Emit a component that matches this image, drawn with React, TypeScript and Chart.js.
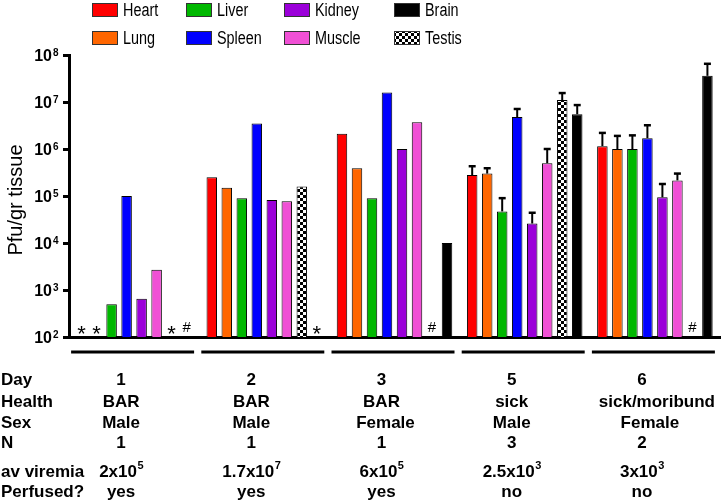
import React, { useEffect, useRef } from 'react';
import { Chart, registerables } from 'chart.js';

Chart.register(...registerables);

// ---- data ----
const days = ['1', '2', '3', '5', '6'];
const health = ['BAR', 'BAR', 'BAR', 'sick', 'sick/moribund'];
const sex = ['Male', 'Male', 'Female', 'Male', 'Female'];
const nCount = ['1', '1', '1', '3', '2'];
const viremiaMantissa = ['2', '1.7', '6', '2.5', '3'];
const viremiaExponent = ['5', '7', '5', '3', '3'];
const perfused = ['yes', 'yes', 'yes', 'no', 'no'];

const yTickExponents = [2, 3, 4, 5, 6, 7, 8];

const organs = ['Heart', 'Lung', 'Liver', 'Spleen', 'Kidney', 'Muscle', 'Testis', 'Brain'];
const organColors = ['#ff0000', '#ff6600', '#00b800', '#0000ff', '#9b00d9', '#f050d5', 'checker', '#000000'];

const heart = [null, 2.5e5, 2.1e6, 2.8e5, 1.15e6];
const lung = [null, 1.5e5, 3.9e5, 3.0e5, 1.0e6];
const liver = [500, 9e4, 9e4, 4.7e4, 1.0e6];
const spleen = [1.0e5, 3.5e6, 1.6e7, 4.8e6, 1.7e6];
const kidney = [650, 8.2e4, 1.0e6, 2.6e4, 9.4e4];
const muscle = [2700, 7.7e4, 3.7e6, 5.0e5, 2.15e5];
const testis = [null, 1.6e5, null, 1.1e7, null];
const brain = [null, null, 1.0e4, 5.5e6, 3.6e7];

const heartErr = [null, null, null, 4.3e5, 2.2e6];
const lungErr = [null, null, null, 3.9e5, 1.9e6];
const liverErr = [null, null, null, 9e4, 1.95e6];
const spleenErr = [null, null, null, 7.1e6, 3.2e6];
const kidneyErr = [null, null, null, 4.4e4, 1.8e5];
const muscleErr = [null, null, null, 1.0e6, 3.0e5];
const testisErr = [null, null, null, 1.55e7, null];
const brainErr = [null, null, null, 8.6e6, 6.5e7];

const heartMarks = ['*', '', '', '', ''];
const lungMarks = ['*', '', '', '', ''];
const noMarks = ['', '', '', '', ''];
const testisMarks = ['*', '', '#', '', '#'];
const brainMarks = ['#', '*', '', '', ''];

const legendRows = [
  ['Heart', 'Liver', 'Kidney', 'Brain'],
  ['Lung', 'Spleen', 'Muscle', 'Testis'],
];

const seriesValues = [heart, lung, liver, spleen, kidney, muscle, testis, brain];
const seriesErrors = [heartErr, lungErr, liverErr, spleenErr, kidneyErr, muscleErr, testisErr, brainErr];
const seriesMarks = [heartMarks, lungMarks, noMarks, noMarks, noMarks, noMarks, testisMarks, brainMarks];

const FONT = "'Liberation Sans', Arial, sans-serif";

export default function App() {
  const ref = useRef<HTMLCanvasElement>(null);

  useEffect(() => {
    const canvas = ref.current!;
    const ctx0 = canvas.getContext('2d')!;
    const pc = document.createElement('canvas');
    pc.width = 6;
    pc.height = 6;
    const p = pc.getContext('2d')!;
    p.fillStyle = '#fff';
    p.fillRect(0, 0, 6, 6);
    p.fillStyle = '#000';
    p.fillRect(0, 0, 3, 3);
    p.fillRect(3, 3, 3, 3);
    const checker = ctx0.createPattern(pc, 'repeat')!;

    const fillFor = (i: number) => (organColors[i] === 'checker' ? checker : organColors[i]);

    const overlay = {
      id: 'overlay',
      afterDatasetsDraw(chart: any) {
        const ctx = chart.ctx;
        const ys = chart.scales.y;
        ctx.save();
        chart.data.datasets.forEach((ds: any, di: number) => {
          const meta = chart.getDatasetMeta(di);
          seriesErrors[di].forEach((e: any, i: number) => {
            if (e == null || ds.data[i] == null) return;
            const x = meta.data[i].x;
            const top = ys.getPixelForValue(ds.data[i]);
            const ey = ys.getPixelForValue(e);
            ctx.strokeStyle = '#000';
            ctx.lineWidth = 2;
            ctx.beginPath();
            ctx.moveTo(x, top);
            ctx.lineTo(x, ey);
            ctx.stroke();
            ctx.lineWidth = 2.5;
            ctx.beginPath();
            ctx.moveTo(x - 3.5, ey);
            ctx.lineTo(x + 3.5, ey);
            ctx.stroke();
          });
          seriesMarks[di].forEach((m: string, i: number) => {
            if (!m) return;
            const x = meta.data[i].x;
            ctx.fillStyle = '#000';
            ctx.textAlign = 'center';
            ctx.textBaseline = 'alphabetic';
            if (m === '*') {
              ctx.font = `22px ${FONT}`;
              ctx.fillText(m, x, 341);
            } else {
              ctx.font = `15px ${FONT}`;
              ctx.fillText(m, x, 332);
            }
          });
        });
        ctx.restore();
      },
      afterDraw(chart: any) {
        const ctx = chart.ctx;
        const ys = chart.scales.y;
        const xs = chart.scales.x;
        ctx.save();
        ctx.fillStyle = '#000';
        // y tick labels
        yTickExponents.forEach((k) => {
          const py = ys.getPixelForValue(Math.pow(10, k));
          ctx.font = `bold 16px ${FONT}`;
          ctx.textAlign = 'right';
          ctx.textBaseline = 'alphabetic';
          ctx.fillText('10', 52, py + 6);
          ctx.font = `bold 10px ${FONT}`;
          ctx.textAlign = 'left';
          ctx.fillText(String(k), 53, py + 1);
        });
        // y title
        ctx.save();
        ctx.translate(22, (ys.top + ys.bottom) / 2 + 4);
        ctx.rotate(-Math.PI / 2);
        ctx.font = `20px ${FONT}`;
        ctx.textAlign = 'center';
        ctx.textBaseline = 'alphabetic';
        ctx.fillText('Pfu/gr tissue', 0, 0);
        ctx.restore();
        // legend
        const colX = [92, 186, 284, 394];
        const rowY = [3, 31];
        legendRows.forEach((row, r) => {
          row.forEach((name, c) => {
            const idx = organs.indexOf(name);
            const bx = colX[c];
            const by = rowY[r];
            ctx.fillStyle = fillFor(idx);
            ctx.fillRect(bx, by, 26, 14);
            ctx.strokeStyle = '#333';
            ctx.lineWidth = 1;
            ctx.strokeRect(bx + 0.5, by + 0.5, 25, 13);
            ctx.save();
            ctx.translate(bx + 31, by + 13);
            ctx.scale(0.8, 1);
            ctx.fillStyle = '#000';
            ctx.font = `18px ${FONT}`;
            ctx.textAlign = 'left';
            ctx.textBaseline = 'alphabetic';
            ctx.fillText(name, 0, 0);
            ctx.restore();
          });
        });
        // separators
        ctx.strokeStyle = '#000';
        ctx.lineWidth = 3;
        days.forEach((_, i) => {
          const cx = xs.getPixelForValue(i);
          ctx.beginPath();
          ctx.moveTo(cx - 63, 352);
          ctx.lineTo(cx + 60, 352);
          ctx.stroke();
        });
        // table
        ctx.fillStyle = '#000';
        ctx.font = `bold 17px ${FONT}`;
        const rowsBase = [385, 407, 428, 448, 477, 497];
        const labels = ['Day', 'Health', 'Sex', 'N', 'av viremia', 'Perfused?'];
        labels.forEach((l, r) => {
          ctx.textAlign = 'left';
          ctx.fillText(l, 1, rowsBase[r]);
        });
        const healthShift = [0, 0, 0, 0, 15];
        const sexShift = [0, 0, 4, 0, 8];
        days.forEach((_, i) => {
          const cx = xs.getPixelForValue(i) - 13;
          ctx.font = `bold 17px ${FONT}`;
          ctx.textAlign = 'center';
          ctx.fillText(days[i], cx, rowsBase[0]);
          ctx.fillText(health[i], cx + healthShift[i], rowsBase[1]);
          ctx.fillText(sex[i], cx + sexShift[i], rowsBase[2]);
          ctx.fillText(nCount[i], cx, rowsBase[3]);
          ctx.fillText(perfused[i], cx, rowsBase[5]);
          // viremia with superscript
          const base = `${viremiaMantissa[i]}x10`;
          ctx.font = `bold 17px ${FONT}`;
          const wb = ctx.measureText(base).width;
          ctx.font = `bold 11px ${FONT}`;
          const we = ctx.measureText(viremiaExponent[i]).width;
          const start = cx - (wb + we) / 2;
          ctx.textAlign = 'left';
          ctx.font = `bold 17px ${FONT}`;
          ctx.fillText(base, start, rowsBase[4]);
          ctx.font = `bold 11px ${FONT}`;
          ctx.fillText(viremiaExponent[i], start + wb + 0.5, rowsBase[4] - 8);
        });
        ctx.restore();
      },
    };

    const chart = new Chart(canvas, {
      type: 'bar',
      data: {
        labels: days,
        datasets: organs.map((name, i) => ({
          label: name,
          data: seriesValues[i] as any,
          backgroundColor: fillFor(i) as any,
          borderColor: '#000',
          borderWidth: 1,
          categoryPercentage: 0.922,
          barPercentage: 0.7,
        })),
      },
      options: {
        responsive: false,
        animation: false,
        devicePixelRatio: 1,
        layout: { padding: { top: 55, bottom: 165, left: 0, right: 5 } },
        plugins: { legend: { display: false }, tooltip: { enabled: false } },
        scales: {
          x: {
            type: 'category',
            ticks: { display: false },
            grid: { display: true, drawOnChartArea: false, drawTicks: false },
            border: { display: true, color: '#000', width: 3 },
            afterFit: (s: any) => {
              s.height = 0;
            },
          },
          y: {
            type: 'logarithmic',
            min: 100,
            max: 1e8,
            afterBuildTicks: (s: any) => {
              s.ticks = yTickExponents.map((k) => ({ value: Math.pow(10, k) }));
            },
            ticks: { display: false },
            grid: {
              display: true,
              drawOnChartArea: false,
              drawTicks: true,
              tickLength: 6,
              lineWidth: 3,
              color: '#000',
            },
            border: { display: true, color: '#000', width: 3 },
            afterFit: (s: any) => {
              s.width = 69;
            },
          },
        },
      },
      plugins: [overlay],
    });
    return () => chart.destroy();
  }, []);

  return (
    <div style={{ position: 'absolute', left: 0, top: 0, width: 725, height: 502, background: '#fff' }}>
      <canvas ref={ref} width={725} height={502} style={{ display: 'block' }} />
    </div>
  );
}
